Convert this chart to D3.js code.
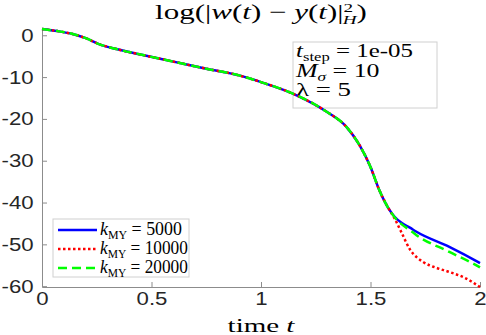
<!DOCTYPE html>
<meta charset="utf-8" />
<style>
  body { margin: 0; background: #fff; }
  .axis path, .axis line { stroke: #8c8c8c; }
  .axis text { font-family: "Liberation Sans", Arial, sans-serif; font-size: 18.5px; fill: #262626; }
  .tex { font-family: "Liberation Serif", "DejaVu Serif", serif; fill: #000; }
</style>
<body>
  <div id="chart"></div>
  <script src="https://d3js.org/d3.v7.min.js"></script>
  <script>
    // shared part of the three curves (they lie on top of each other up to t ~ 1.6)
    var tCommon = [0, 0.07, 0.14, 0.2, 0.26, 0.34, 0.45, 0.6, 0.75, 0.9, 1.0, 1.16, 1.3, 1.39, 1.45, 1.5, 1.54, 1.58];
    var vCommon = [1.5, 1.0, 0.3, -0.7, -2.1, -3.3, -4.6, -6.3, -8.0, -9.6, -11.2, -14.3, -18.3, -21.9, -26.3, -31.5, -37.0, -41.2];

    // tails after the split
    var tBlue = [1.61, 1.64, 1.68, 1.71, 1.86, 1.99, 2.0];
    var vBlue = [-43.4, -44.8, -46.0, -47.0, -50.6, -54.2, -54.5];
    var tRed = [1.61, 1.64, 1.68, 1.74, 1.8, 1.86, 1.93, 2.0];
    var vRed = [-43.8, -47.0, -51.2, -54.2, -55.6, -56.6, -58.0, -60.2];
    var tGreen = [1.61, 1.64, 1.68, 1.71, 1.86, 1.99, 2.0];
    var vGreen = [-43.5, -45.1, -46.6, -47.8, -51.8, -55.2, -55.5];

    var xTicks = [0, 0.5, 1, 1.5, 2];
    var yTicks = [0, -10, -20, -30, -40, -50, -60];
    var legendValues = ["5000", "10000", "20000"];

    var width = 486, height = 335;
    var pLeft = 42, pRight = 480, pTop = 29, pBottom = 287;

    var svg = d3.select("#chart").append("svg")
      .attr("width", width).attr("height", height);

    var x = d3.scaleLinear().domain([0, 2]).range([pLeft, pRight]);
    var y = d3.scaleLinear().domain([-60.2, 1.5]).range([pBottom, pTop]);

    // the reference text is wider than the fonts here, so stretch to a target width
    function fit(t, px, py, w) {
      var bw = t.node().getBBox().width;
      t.attr("transform", "translate(" + px + "," + py + ") scale(" + (w / bw) + ",1)");
    }

    function join(ta, va) {
      var pts = tCommon.map(function (t, i) { return [t, vCommon[i]]; });
      ta.forEach(function (t, i) { pts.push([t, va[i]]); });
      return pts;
    }

    var series = [
      { pts: join(tBlue, vBlue), color: "#0000ff", dash: null },
      { pts: join(tRed, vRed), color: "#ff0000", dash: "2.5,2.5" },
      { pts: join(tGreen, vGreen), color: "#00ff00", dash: "9,5" }
    ];

    // axes (left + bottom only, ticks pointing inward)
    svg.append("g").attr("class", "axis")
      .attr("transform", "translate(0," + pBottom + ")")
      .call(d3.axisBottom(x).tickValues(xTicks).tickFormat(d3.format("")).tickSize(-5).tickPadding(5).tickSizeOuter(0));
    svg.append("g").attr("class", "axis")
      .attr("transform", "translate(" + pLeft + ",0)")
      .call(d3.axisLeft(y).tickValues(yTicks).tickFormat(d3.format("")).tickSize(-5).tickPadding(7).tickSizeOuter(0));
    svg.selectAll(".axis text")
      .text(function () { return this.textContent.replace("−", "-"); })
      .attr("transform", "scale(1.2,1)");

    // parameter annotation box (the curve runs over its corner)
    svg.append("rect")
      .attr("x", 293).attr("y", 42).attr("width", 144).attr("height", 66)
      .attr("fill", "#fff").attr("stroke", "#d0d0d0");
    var ann = [
      { parts: [["t", "i"], ["step", "s"], [" = 1e-05", "b"]], w: 117 },
      { parts: [["M", "i"], ["σ", "si"], [" = 10", "b"]], w: 85 },
      { parts: [["λ", ""], [" = 5", ""]], w: 55 }
    ];
    ann.forEach(function (row, i) {
      var t = svg.append("text").attr("class", "tex").style("font-size", "18px");
      row.parts.forEach(function (p) {
        var sp = t.append("tspan").text(p[0]);
        if (p[1].indexOf("i") >= 0) sp.attr("font-style", "italic");
        if (p[1].indexOf("s") >= 0) sp.attr("dy", 4).style("font-size", "12px");
        if (p[1].indexOf("b") >= 0) sp.attr("dy", -4);
      });
      fit(t, 296, 57 + i * 19.5, row.w);
    });

    var line = d3.line()
      .x(function (d) { return x(d[0]); })
      .y(function (d) { return y(d[1]); })
      .curve(d3.curveMonotoneX);

    series.forEach(function (s) {
      svg.append("path")
        .datum(s.pts)
        .attr("fill", "none")
        .attr("stroke", s.color)
        .attr("stroke-width", 2.5)
        .attr("stroke-dasharray", s.dash)
        .attr("d", line);
    });

    // title
    var title = svg.append("text").attr("class", "tex")
      .attr("text-anchor", "middle").style("font-size", "21px");
    title.append("tspan").text("log(|");
    title.append("tspan").attr("font-style", "italic").text("w");
    title.append("tspan").text("(");
    title.append("tspan").attr("font-style", "italic").text("t");
    title.append("tspan").text(")  −  ");
    title.append("tspan").attr("font-style", "italic").text("y");
    title.append("tspan").text("(");
    title.append("tspan").attr("font-style", "italic").text("t");
    title.append("tspan").text(")|");
    title.append("tspan").attr("dy", -7).style("font-size", "13px").text("2");
    title.append("tspan").attr("dx", -7).attr("dy", 12).style("font-size", "13px").attr("font-style", "italic").text("H");
    title.append("tspan").attr("dy", -5).text(")");
    fit(title, 261, 19, 212);

    // x label
    var xl = svg.append("text").attr("class", "tex")
      .attr("text-anchor", "middle").style("font-size", "19px");
    xl.append("tspan").text("time ");
    xl.append("tspan").attr("font-style", "italic").text("t");
    fit(xl, 261, 332, 68);

    // legend
    svg.append("rect")
      .attr("x", 53).attr("y", 219).attr("width", 136).attr("height", 58)
      .attr("fill", "#fff").attr("stroke", "#d0d0d0");
    var legendWidths = [82, 88, 88];
    legendValues.forEach(function (v, i) {
      var ly = 230 + i * 19;
      svg.append("line")
        .attr("x1", 58).attr("x2", 97).attr("y1", ly).attr("y2", ly)
        .attr("stroke", series[i].color).attr("stroke-width", 2.5)
        .attr("stroke-dasharray", series[i].dash);
      var t = svg.append("text").attr("class", "tex").style("font-size", "18px");
      t.append("tspan").attr("font-style", "italic").text("k");
      t.append("tspan").attr("dy", 4).style("font-size", "12px").text("MY");
      t.append("tspan").attr("dy", -4).text(" = " + v);
      fit(t, 100, ly + 5, legendWidths[i]);
    });
  </script>
</body>
